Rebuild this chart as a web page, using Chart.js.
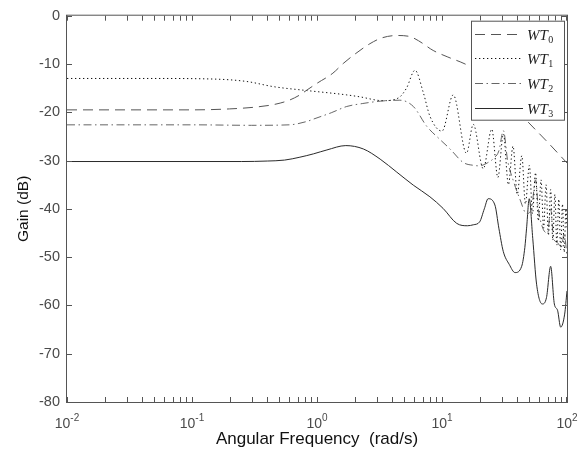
<!DOCTYPE html>
<html>
<head>
<meta charset="utf-8">
<script src="https://cdn.jsdelivr.net/npm/chart.js@4"></script>
<style>
  html, body { margin: 0; padding: 0; background: #fff; }
</style>
</head>
<body>
<canvas id="gainChart" width="587" height="452"></canvas>
<script>
// series names (last char is drawn as subscript in the legend)
var seriesNames = ['WT0', 'WT1', 'WT2', 'WT3'];

// x tick labels (decades)
var xTickValues = [0.01, 0.1, 1, 10, 100];
var yTickValues = [-80, -70, -60, -50, -40, -30, -20, -10, 0];

// WT0 - dashed
var freqWT0 = [0.01, 0.1, 0.2, 0.33, 0.47, 0.6, 0.73, 0.83, 1.0, 1.34, 1.62, 2.0, 2.65, 3.3, 4.35, 5.5, 6.5, 8.5, 11, 15, 20, 30, 47.5, 70, 100];
var gainWT0 = [-19.5, -19.5, -19.3, -18.9, -18.3, -17.5, -16.4, -15.4, -14.0, -11.9, -9.9, -8.0, -5.8, -4.6, -4.1, -4.3, -5.2, -7.2, -8.5, -9.9, -11.6, -16.2, -21.7, -26.2, -30.5];

// WT1 - dotted
var freqWT1 = [0.01, 0.05, 0.14, 0.27, 0.45, 0.83, 1.73, 2.2, 3.37, 4.5, 5.2, 6.08, 7.1, 8.0, 10.0, 12.3, 15.7, 17.8, 21.4, 25, 28, 31, 34, 37, 40, 43.5, 46.5, 50, 53, 56, 59, 62, 65, 68, 71, 74, 77, 80, 83, 86, 89, 92, 95, 98, 100];
var gainWT1 = [-13.0, -13.0, -13.1, -13.6, -14.7, -15.5, -16.4, -16.8, -17.6, -17.0, -15.0, -11.3, -16.0, -20.8, -23.9, -16.4, -28.5, -22.5, -31.7, -23.5, -33.5, -24.5, -35, -27, -37, -29, -39, -31, -41, -32.5, -42.5, -34, -44, -35, -45.5, -36, -46.5, -37, -47.5, -38, -48.5, -39, -49, -40, -44];

// WT2 - dash-dot
var freqWT2 = [0.01, 0.1, 0.3, 0.6, 0.83, 0.94, 1.3, 1.73, 2.3, 3.2, 4.6, 5.9, 7.55, 9.6, 11.6, 14.8, 18, 20, 23, 26, 28.5, 31, 33.5, 37, 42, 47.5, 52, 56, 59, 64, 70, 74, 78, 84, 90, 95, 100];
var gainWT2 = [-22.6, -22.6, -22.7, -22.6, -21.9, -21.4, -20.1, -18.8, -18.2, -17.7, -17.5, -18.8, -22.9, -25.6, -27.6, -30.4, -31.0, -31.1, -30.5, -29.5, -28.0, -23.8, -30.0, -34.0, -38.0, -41.0, -40.0, -34.0, -40.0, -44.0, -45.0, -40.0, -46.0, -47.0, -48.0, -45.0, -50.0];

// WT3 - solid
var freqWT3 = [0.01, 0.1, 0.25, 0.4, 0.55, 0.73, 0.94, 1.2, 1.7, 2.35, 3.2, 4.35, 5.9, 8.0, 10.2, 13.1, 16, 17.8, 20, 21.8, 23.4, 26.5, 28.5, 30.9, 34.5, 38.4, 43.4, 46, 47.5, 49.9, 53.2, 57.1, 63.4, 68.5, 74, 79.2, 84, 89, 95.8, 100];
var gainWT3 = [-30.2, -30.2, -30.2, -30.1, -29.9, -29.3, -28.6, -27.8, -26.9, -27.6, -29.7, -32.4, -35.1, -37.5, -39.9, -43.0, -43.5, -43.3, -42.7, -40.0, -37.9, -39.2, -44.0, -48.8, -51.5, -53.2, -51.9, -48.0, -44.0, -37.9, -46.1, -55.6, -59.7, -58.4, -51.9, -59.7, -61.0, -64.5, -61.8, -57.0];

function toPoints(freqs, gains) {
  return freqs.map(function (f, i) { return { x: f, y: gains[i] }; });
}

var lineStyles = [
  { color: '#555', dash: [10, 6] },
  { color: '#111', dash: [1.3, 2.7] },
  { color: '#666', dash: [8, 3.5, 1.5, 3.5] },
  { color: '#2a2a2a', dash: [] }
];
var allFreqs = [freqWT0, freqWT1, freqWT2, freqWT3];
var allGains = [gainWT0, gainWT1, gainWT2, gainWT3];

var datasets = seriesNames.map(function (name, i) {
  return {
    label: name,
    data: toPoints(allFreqs[i], allGains[i]),
    borderColor: lineStyles[i].color,
    borderDash: lineStyles[i].dash,
    borderWidth: 1,
    pointRadius: 0,
    fill: false,
    cubicInterpolationMode: 'monotone'
  };
});

var tickColor = '#4a4a4a';
var tickFont = '14px "Liberation Sans", Arial, sans-serif';
var expoFont = '10px "Liberation Sans", Arial, sans-serif';

// box, inward ticks and x decade labels (matlab style)
var axesPlugin = {
  id: 'matlabAxes',
  afterDatasetsDraw: function (chart) {
    var ctx = chart.ctx, a = chart.chartArea;
    var xs = chart.scales.x, ys = chart.scales.y;
    var len = 5;
    ctx.save();
    ctx.strokeStyle = '#555';
    ctx.lineWidth = 1;
    ctx.setLineDash([]);
    ctx.strokeRect(a.left - 0.5, a.top - 0.5, a.right - a.left + 1, a.bottom - a.top + 1);
    ctx.beginPath();
    yTickValues.forEach(function (v) {
      var py = Math.round(ys.getPixelForValue(v)) + 0.5;
      ctx.moveTo(a.left, py); ctx.lineTo(a.left + len, py);
      ctx.moveTo(a.right, py); ctx.lineTo(a.right - len, py);
    });
    for (var d = -2; d < 2; d++) {
      for (var k = 1; k <= 9; k++) {
        var px = Math.round(xs.getPixelForValue(k * Math.pow(10, d))) + 0.5;
        ctx.moveTo(px, a.bottom); ctx.lineTo(px, a.bottom - len);
        ctx.moveTo(px, a.top); ctx.lineTo(px, a.top + len);
      }
    }
    var pe = Math.round(xs.getPixelForValue(100)) - 0.5;
    ctx.moveTo(pe, a.bottom); ctx.lineTo(pe, a.bottom - len);
    ctx.moveTo(pe, a.top); ctx.lineTo(pe, a.top + len);
    ctx.stroke();

    // decade labels 10^n
    ctx.fillStyle = tickColor;
    ctx.textBaseline = 'alphabetic';
    ctx.textAlign = 'left';
    xTickValues.forEach(function (v) {
      var px = xs.getPixelForValue(v);
      var expo = String(Math.round(Math.log10(v)));
      ctx.font = tickFont;
      var wb = ctx.measureText('10').width;
      ctx.font = expoFont;
      var we = ctx.measureText(expo).width;
      var x0 = px - (wb + we) / 2;
      ctx.font = tickFont;
      ctx.fillText('10', x0, a.bottom + 26);
      ctx.font = expoFont;
      ctx.fillText(expo, x0 + wb, a.bottom + 18.5);
    });
    ctx.restore();
  }
};

// legend with white box on top of the lines
var legendPlugin = {
  id: 'boxLegend',
  afterDatasetsDraw: function (chart) {
    var ctx = chart.ctx, a = chart.chartArea;
    var w = 93, h = 99;
    var x0 = a.right - 3 - w, y0 = a.top + 5;
    ctx.save();
    ctx.fillStyle = '#fff';
    ctx.fillRect(x0, y0, w, h);
    ctx.strokeStyle = '#555';
    ctx.lineWidth = 1;
    ctx.strokeRect(x0 + 0.5, y0 + 0.5, w, h);
    chart.data.datasets.forEach(function (ds, i) {
      var y = Math.round(y0 + 13 + i * 24.7) + 0.5;
      ctx.beginPath();
      ctx.setLineDash(ds.borderDash || []);
      ctx.strokeStyle = ds.borderColor;
      ctx.moveTo(x0 + 4, y);
      ctx.lineTo(x0 + 52, y);
      ctx.stroke();
      ctx.setLineDash([]);
      var name = ds.label;
      ctx.fillStyle = '#222';
      ctx.textAlign = 'left';
      ctx.textBaseline = 'alphabetic';
      ctx.font = 'italic 15px "Liberation Serif", "DejaVu Serif", serif';
      var base = name.slice(0, -1);
      ctx.fillText(base, x0 + 56, y + 5);
      var wb = ctx.measureText(base).width;
      ctx.font = '10px "Liberation Serif", "DejaVu Serif", serif';
      ctx.fillText(name.slice(-1), x0 + 56 + wb + 0.5, y + 8);
    });
    ctx.restore();
  }
};

var ctx = document.getElementById('gainChart').getContext('2d');
var gainChart = new Chart(ctx, {
  type: 'line',
  data: { datasets: datasets },
  options: {
    responsive: false,
    devicePixelRatio: 1,
    animation: false,
    layout: { padding: { left: 0, top: 12, right: 20, bottom: 0 } },
    plugins: {
      legend: { display: false },
      tooltip: { enabled: false }
    },
    scales: {
      x: {
        type: 'logarithmic',
        position: 'bottom',
        min: 0.01,
        max: 100,
        grid: { display: false },
        border: { display: false },
        ticks: { display: false },
        title: {
          display: true,
          text: 'Angular Frequency  (rad/s)',
          color: '#111',
          font: { family: '"Liberation Sans", Arial, sans-serif', size: 17 },
          padding: { top: 0, bottom: 2.8 }
        },
        afterFit: function (scale) { scale.height = 50; }
      },
      y: {
        type: 'linear',
        min: -80,
        max: 0,
        grid: { drawOnChartArea: false, drawTicks: false },
        border: { display: false },
        ticks: {
          stepSize: 10,
          padding: 7,
          color: tickColor,
          font: { family: '"Liberation Sans", Arial, sans-serif', size: 14.5 }
        },
        title: {
          display: true,
          text: 'Gain (dB)',
          color: '#111',
          font: { family: '"Liberation Sans", Arial, sans-serif', size: 15.5 },
          padding: { top: 14.5, bottom: 0 }
        },
        afterFit: function (scale) { scale.width = 67; }
      }
    }
  },
  plugins: [axesPlugin, legendPlugin]
});
</script>
</body>
</html>
